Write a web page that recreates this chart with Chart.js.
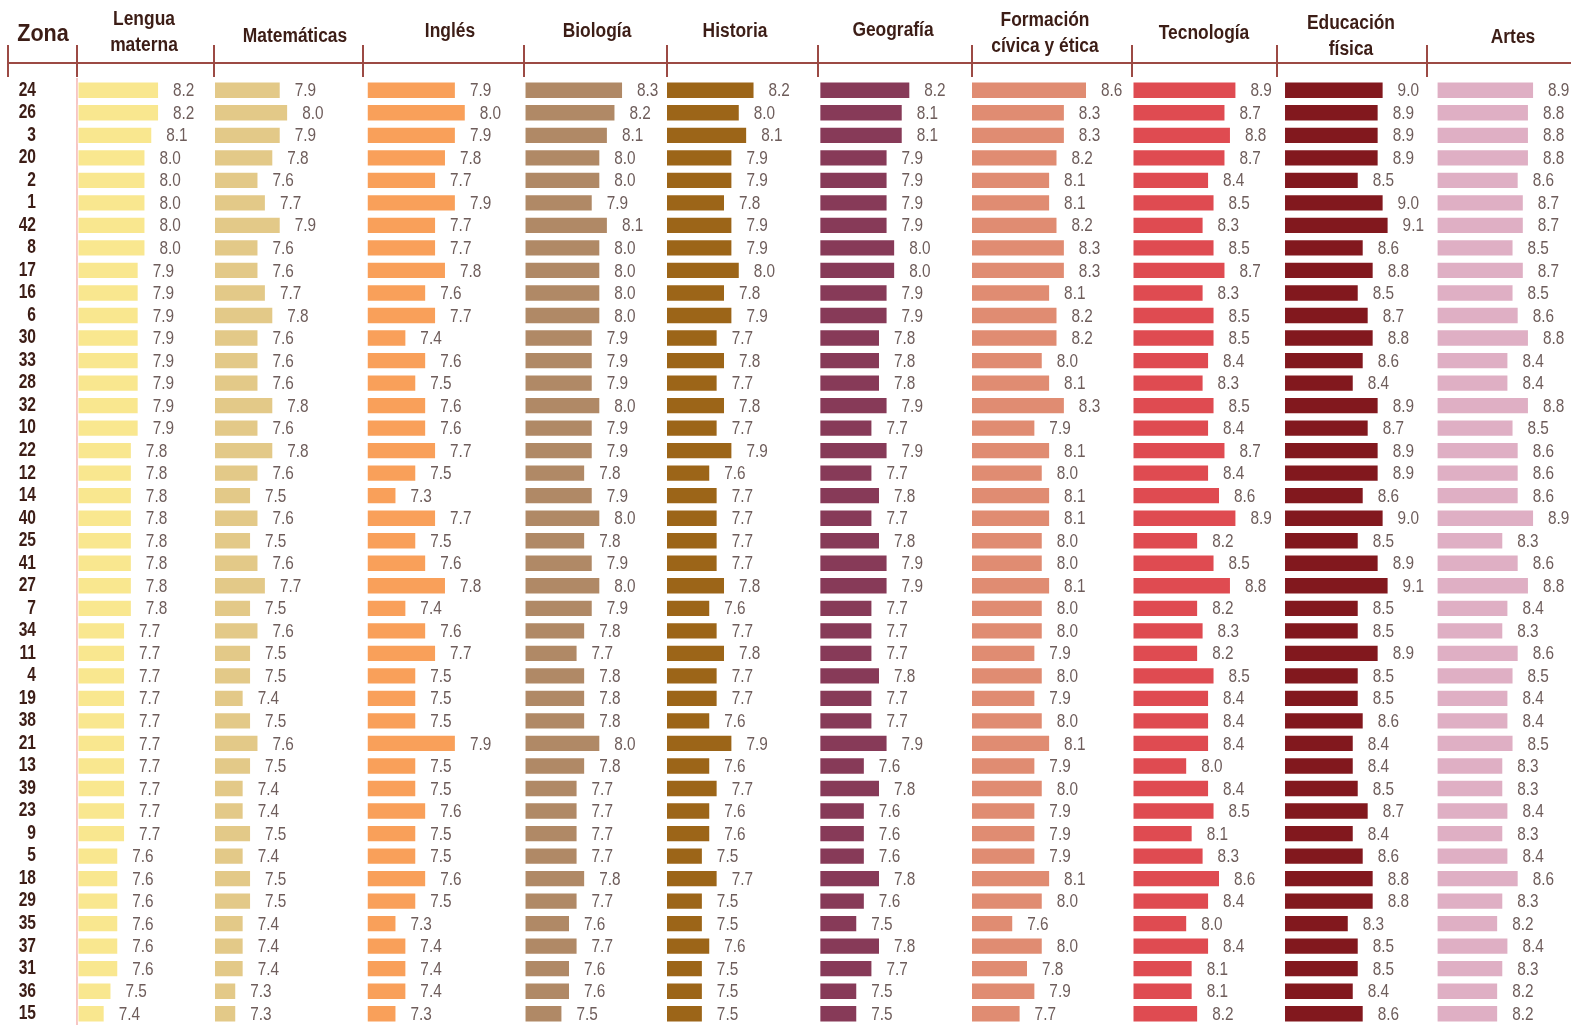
<!DOCTYPE html>
<html lang="es">
<head>
<meta charset="utf-8">
<title>Calificaciones promedio por zona</title>
<script src="https://cdn.jsdelivr.net/npm/chart.js@4.4.1/dist/chart.umd.min.js"></script>
<style>
  html, body { margin: 0; padding: 0; background: #ffffff; }
  #wrap { width: 1571px; height: 1025px; position: relative; }
</style>
</head>
<body>
<div id="wrap"><canvas id="chart"></canvas></div>
<script>
/* ===============================
   DATA
================================ */
const zonas = ["24", "26", "3", "20", "2", "1", "42", "8", "17", "16", "6", "30", "33", "28",
  "32", "10", "22", "12", "14", "40", "25", "41", "27", "7", "34", "11", "4", "19",
  "38", "21", "13", "39", "23", "9", "5", "18", "29", "35", "37", "31", "36", "15"];

const lenguaMaterna = [8.2, 8.2, 8.1, 8.0, 8.0, 8.0, 8.0, 8.0, 7.9, 7.9, 7.9, 7.9, 7.9, 7.9,
  7.9, 7.9, 7.8, 7.8, 7.8, 7.8, 7.8, 7.8, 7.8, 7.8, 7.7, 7.7, 7.7, 7.7,
  7.7, 7.7, 7.7, 7.7, 7.7, 7.7, 7.6, 7.6, 7.6, 7.6, 7.6, 7.6, 7.5, 7.4];
const matematicas = [7.9, 8.0, 7.9, 7.8, 7.6, 7.7, 7.9, 7.6, 7.6, 7.7, 7.8, 7.6, 7.6, 7.6,
  7.8, 7.6, 7.8, 7.6, 7.5, 7.6, 7.5, 7.6, 7.7, 7.5, 7.6, 7.5, 7.5, 7.4,
  7.5, 7.6, 7.5, 7.4, 7.4, 7.5, 7.4, 7.5, 7.5, 7.4, 7.4, 7.4, 7.3, 7.3];
const ingles = [7.9, 8.0, 7.9, 7.8, 7.7, 7.9, 7.7, 7.7, 7.8, 7.6, 7.7, 7.4, 7.6, 7.5,
  7.6, 7.6, 7.7, 7.5, 7.3, 7.7, 7.5, 7.6, 7.8, 7.4, 7.6, 7.7, 7.5, 7.5,
  7.5, 7.9, 7.5, 7.5, 7.6, 7.5, 7.5, 7.6, 7.5, 7.3, 7.4, 7.4, 7.4, 7.3];
const biologia = [8.3, 8.2, 8.1, 8.0, 8.0, 7.9, 8.1, 8.0, 8.0, 8.0, 8.0, 7.9, 7.9, 7.9,
  8.0, 7.9, 7.9, 7.8, 7.9, 8.0, 7.8, 7.9, 8.0, 7.9, 7.8, 7.7, 7.8, 7.8,
  7.8, 8.0, 7.8, 7.7, 7.7, 7.7, 7.7, 7.8, 7.7, 7.6, 7.7, 7.6, 7.6, 7.5];
const historia = [8.2, 8.0, 8.1, 7.9, 7.9, 7.8, 7.9, 7.9, 8.0, 7.8, 7.9, 7.7, 7.8, 7.7,
  7.8, 7.7, 7.9, 7.6, 7.7, 7.7, 7.7, 7.7, 7.8, 7.6, 7.7, 7.8, 7.7, 7.7,
  7.6, 7.9, 7.6, 7.7, 7.6, 7.6, 7.5, 7.7, 7.5, 7.5, 7.6, 7.5, 7.5, 7.5];
const geografia = [8.2, 8.1, 8.1, 7.9, 7.9, 7.9, 7.9, 8.0, 8.0, 7.9, 7.9, 7.8, 7.8, 7.8,
  7.9, 7.7, 7.9, 7.7, 7.8, 7.7, 7.8, 7.9, 7.9, 7.7, 7.7, 7.7, 7.8, 7.7,
  7.7, 7.9, 7.6, 7.8, 7.6, 7.6, 7.6, 7.8, 7.6, 7.5, 7.8, 7.7, 7.5, 7.5];
const formacionCivica = [8.6, 8.3, 8.3, 8.2, 8.1, 8.1, 8.2, 8.3, 8.3, 8.1, 8.2, 8.2, 8.0, 8.1,
  8.3, 7.9, 8.1, 8.0, 8.1, 8.1, 8.0, 8.0, 8.1, 8.0, 8.0, 7.9, 8.0, 7.9,
  8.0, 8.1, 7.9, 8.0, 7.9, 7.9, 7.9, 8.1, 8.0, 7.6, 8.0, 7.8, 7.9, 7.7];
const tecnologia = [8.9, 8.7, 8.8, 8.7, 8.4, 8.5, 8.3, 8.5, 8.7, 8.3, 8.5, 8.5, 8.4, 8.3,
  8.5, 8.4, 8.7, 8.4, 8.6, 8.9, 8.2, 8.5, 8.8, 8.2, 8.3, 8.2, 8.5, 8.4,
  8.4, 8.4, 8.0, 8.4, 8.5, 8.1, 8.3, 8.6, 8.4, 8.0, 8.4, 8.1, 8.1, 8.2];
const educacionFisica = [9.0, 8.9, 8.9, 8.9, 8.5, 9.0, 9.1, 8.6, 8.8, 8.5, 8.7, 8.8, 8.6, 8.4,
  8.9, 8.7, 8.9, 8.9, 8.6, 9.0, 8.5, 8.9, 9.1, 8.5, 8.5, 8.9, 8.5, 8.5,
  8.6, 8.4, 8.4, 8.5, 8.7, 8.4, 8.6, 8.8, 8.8, 8.3, 8.5, 8.5, 8.4, 8.6];
const artes = [8.9, 8.8, 8.8, 8.8, 8.6, 8.7, 8.7, 8.5, 8.7, 8.5, 8.6, 8.8, 8.4, 8.4,
  8.8, 8.5, 8.6, 8.6, 8.6, 8.9, 8.3, 8.6, 8.8, 8.4, 8.3, 8.6, 8.5, 8.4,
  8.4, 8.5, 8.3, 8.3, 8.4, 8.3, 8.4, 8.6, 8.3, 8.2, 8.4, 8.3, 8.2, 8.2];

const asignaturas = [["Lengua", "materna"], "Matemáticas", "Inglés", "Biología", "Historia",
  "Geografía", ["Formación", "cívica y ética"], "Tecnología", ["Educación", "física"], "Artes"];
const series = [lenguaMaterna, matematicas, ingles, biologia, historia,
  geografia, formacionCivica, tecnologia, educacionFisica, artes];

/* ===============================
   STYLE / LAYOUT
================================ */
const barColors = ["#f9e78f", "#e3c988", "#f9a05a", "#b08966", "#9c6518",
  "#873a58", "#e08c72", "#df4b51", "#82181e", "#dfafc4"];
const colWidths = [137, 149, 161, 143, 151, 154, 160, 145, 150, 144];
const scaleMin = [6.993, 7.0, 6.962, 6.993, 7.014, 6.982, 7.041, 6.991, 6.859, 6.813];
const scaleMax = [9.008, 9.01, 8.588, 8.88, 9.06, 9.014, 9.21, 9.642, 9.871, 9.62];
const headerY = [19.5, 36.5, 31, 31, 31, 30, 20, 33, 23, 37];
const headerDx = [-1.5, 6.5, 6.5, 1.5, -7.5, -2, -7, -0.5, -1, 14];
const BAR_BASE = 7;

const FONT = "'Liberation Sans', Arial, sans-serif";
const DARK = "#3c1d16";
const RULE = "#9c4a44";
const LABEL = "#6e5d5b";

// Arial-Narrow look: Liberation Sans squeezed horizontally
function narrowText(ctx, text, x, y, font, color, align, squeeze) {
  ctx.save();
  ctx.font = font;
  ctx.fillStyle = color;
  ctx.textAlign = align;
  ctx.textBaseline = "middle";
  ctx.translate(x, y);
  ctx.scale(squeeze, 1);
  ctx.fillText(text, 0, 0);
  ctx.restore();
}

/* ===============================
   PLUGINS
================================ */
const headerRule = {
  id: "headerRule",
  afterDraw(chart) {
    const ctx = chart.ctx;
    ctx.save();
    ctx.strokeStyle = RULE;
    ctx.lineWidth = 2;
    ctx.beginPath();
    ctx.moveTo(8, 63);
    ctx.lineTo(chart.width, 63);
    const xs = [8, chart.scales.y.right];
    series.forEach((s, i) => { if (i > 0) xs.push(chart.scales["x" + i].left); });
    xs.forEach(x => { ctx.moveTo(x, 45); ctx.lineTo(x, 77); });
    ctx.stroke();
    ctx.restore();

    narrowText(ctx, "Zona", 43, 34.5, "bold 24px " + FONT, DARK, "center", 0.9);

    // subject headers
    asignaturas.forEach((t, i) => {
      const sc = chart.scales["x" + i];
      const cx = (sc.left + sc.right) / 2 + headerDx[i];
      const lines = Array.isArray(t) ? t : [t];
      lines.forEach((line, k) => {
        narrowText(ctx, line, cx, headerY[i] + k * 26, "bold 20px " + FONT, DARK, "center", 0.87);
      });
    });

    // zone labels
    const y = chart.scales.y;
    chart.data.labels.forEach((z, j) => {
      narrowText(ctx, z, 36, y.getPixelForTick(j), "bold 19.5px " + FONT, DARK, "right", 0.8);
    });
  }
};

const valueLabels = {
  id: "valueLabels",
  afterDatasetsDraw(chart) {
    const ctx = chart.ctx;
    chart.data.datasets.forEach((ds, i) => {
      chart.getDatasetMeta(i).data.forEach((bar, j) => {
        narrowText(ctx, ds.data[j].toFixed(1), bar.x + 14, bar.y + 1,
          "18.5px " + FONT, LABEL, "left", 0.83);
      });
    });
  }
};

/* ===============================
   SCALES + DATASETS
================================ */
const scales = {
  y: {
    position: "left",
    grid: { display: false, drawTicks: false },
    border: { display: true, color: "#f7c6c4", width: 2 },
    ticks: { display: false },
    afterFit(s) { s.width = 77; s.paddingTop = 0; s.paddingBottom = 0; }
  }
};

// top axes of one stack are laid out last-added first, so add them in reverse
for (let i = series.length - 1; i >= 0; i--) {
  scales["x" + i] = {
    type: "linear",
    position: "top",
    stack: "cols",
    stackWeight: colWidths[i],
    min: scaleMin[i],
    max: scaleMax[i],
    grid: { display: false, drawTicks: false },
    border: { display: false },
    ticks: { display: false },
    afterFit(sc) { sc.height = 79; }
  };
}

const datasets = series.map((s, i) => ({
  label: Array.isArray(asignaturas[i]) ? asignaturas[i].join(" ") : asignaturas[i],
  data: s,
  xAxisID: "x" + i,
  yAxisID: "y",
  base: BAR_BASE,
  grouped: false,
  backgroundColor: barColors[i],
  borderColor: "rgba(255,255,255,0.45)",
  borderWidth: 1,
  borderSkipped: false,
  barPercentage: 0.77,
  categoryPercentage: 1
}));

new Chart(document.getElementById("chart"), {
  type: "bar",
  data: { labels: zonas, datasets },
  options: {
    indexAxis: "y",
    responsive: true,
    maintainAspectRatio: false,
    animation: false,
    layout: { padding: 0 },
    plugins: { legend: { display: false }, tooltip: { enabled: false } },
    scales
  },
  plugins: [headerRule, valueLabels]
});
</script>
</body>
</html>
